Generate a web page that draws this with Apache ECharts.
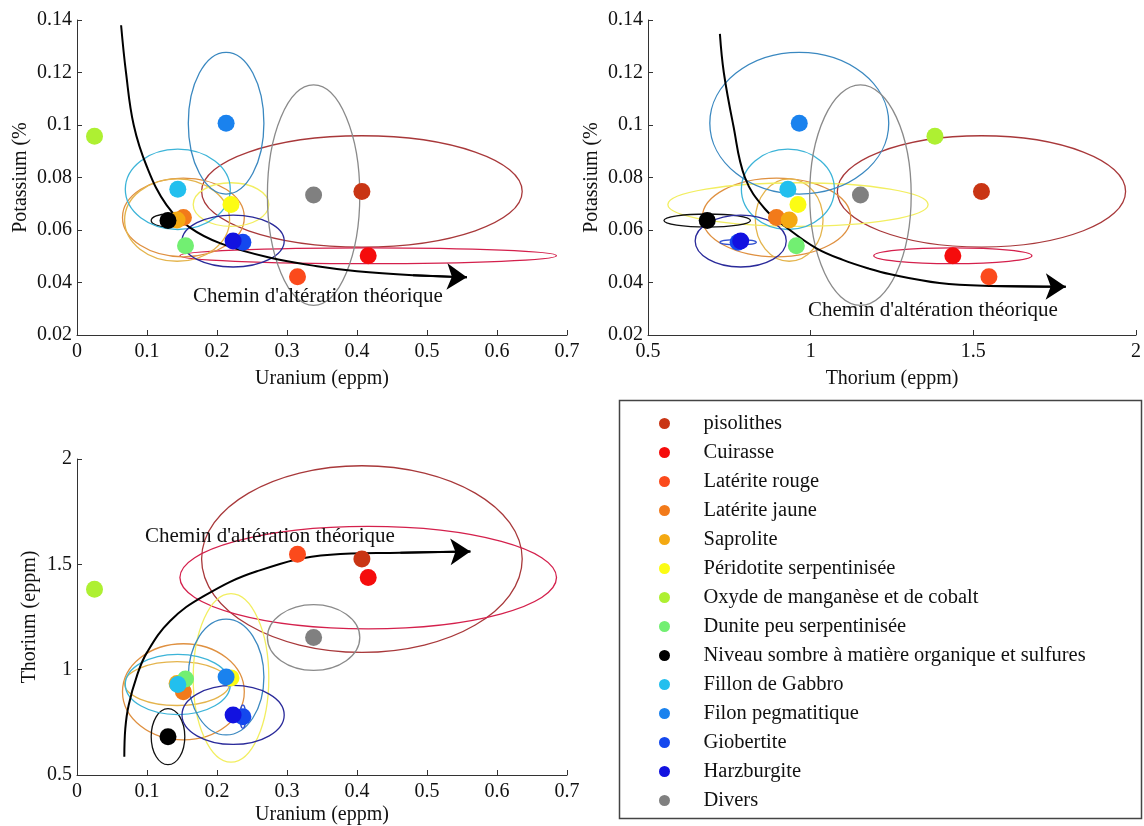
<!DOCTYPE html>
<html><head><meta charset="utf-8">
<script src="https://cdn.jsdelivr.net/npm/echarts@6/dist/echarts.min.js"></script>
<style>html,body{margin:0;padding:0;background:#fff}#c{width:1144px;height:826px}</style>
</head><body><div id="c"></div>
<script>
// ---- data ----
const categories = ['pisolithes','Cuirasse','Latérite rouge','Latérite jaune','Saprolite','Péridotite serpentinisée','Oxyde de manganèse et de cobalt','Dunite peu serpentinisée','Niveau sombre à matière organique et sulfures','Fillon de Gabbro','Filon pegmatitique','Giobertite','Harzburgite','Divers'];
const uranium   = [0.407,0.416,0.315,0.152,0.143,0.220,0.025,0.155,0.130,0.144,0.213,0.237,0.223,0.338];
const thorium   = [1.525,1.437,1.548,0.895,0.934,0.961,1.382,0.956,0.682,0.930,0.965,0.777,0.785,1.153];
const potassium = [0.0747,0.0502,0.0422,0.0648,0.0638,0.0697,0.0957,0.0540,0.0636,0.0755,0.1007,0.0553,0.0558,0.0733];
// half-axes of the dispersion ellipses (null = no ellipse)
const sdUranium   = [0.229,0.269,null,0.087,0.075,0.054,null,null,0.024,0.075,0.054,0.004,0.073,0.066];
const sdThorium   = [0.443,0.243,null,0.228,0.104,0.400,null,null,0.133,0.143,0.275,0.056,0.140,0.156];
const sdPotassium = [0.0212,0.0030,null,0.0150,0.0157,0.0083,null,null,0.0025,0.0153,0.0270,0.0010,0.0099,0.0420];
// theoretical weathering paths (last point = arrow tip)
const pathUK_U  = [0.063,0.070,0.081,0.100,0.128,0.162,0.205,0.276,0.343,0.400,0.480,0.557];
const pathUK_K  = [0.138,0.120,0.100,0.084,0.0695,0.0608,0.0549,0.0494,0.0462,0.0443,0.0428,0.0420];
const pathThK_Th = [0.721,0.733,0.762,0.798,0.859,0.936,1.018,1.099,1.181,1.242,1.396,1.549,1.784];
const pathThK_K  = [0.1347,0.120,0.100,0.080,0.0681,0.060,0.053,0.0486,0.0452,0.0432,0.0398,0.0387,0.0384];
const pathUTh_U  = [0.0676,0.069,0.0737,0.0857,0.100,0.133,0.181,0.257,0.362,0.462,0.562];
const pathUTh_Th = [0.587,0.720,0.830,0.972,1.082,1.231,1.349,1.467,1.546,1.555,1.561];
const pathLabel = "Chemin d'altération théorique";
const xTicksU = [0,0.7,0.1];
const xTicksTh = [0.5,2,0.5];
const yTicksK = [0.02,0.14,0.02];
const yTicksTh = [0.5,2,0.5];

// ---- styles ----
const pointColors = ['#c93514','#f50c0c','#fb4a1c','#f27a1a','#f4a912','#fcfc14','#aef032','#72ef72','#000000','#22bfee','#1a82ee','#1448ee','#1212e0','#808080'];
const ellipseColors = ['#a8383a','#d4204c',null,'#df9040','#e4b44c','#f2ee60',null,null,'#111111','#3cb4d8','#3a88c0','#3050d0','#2a2a9a','#8a8a8a'];
const FONT = "'Liberation Serif','Times New Roman',serif";

const chart = echarts.init(document.getElementById('c'), null, {renderer:'canvas'});

function axis(gridIndex, t, name, nameGap, isY) {
  return {
    gridIndex, type:'value', min:t[0], max:t[1], interval:t[2],
    name, nameLocation:'middle', nameGap,
    nameTextStyle:{fontFamily:FONT, fontSize:20, color:'#111'},
    axisLine:{show:true, onZero:false, lineStyle:{color:'#333', width:1}},
    axisTick:{show:true, inside:true, length:5, lineStyle:{color:'#333'}},
    axisLabel:{fontFamily:FONT, fontSize:20, color:'#111', margin:isY?5:7, showMinLabel:true, showMaxLabel:true},
    splitLine:{show:false}
  };
}

function renderEllipse(params, api) {
  const c = api.coord([api.value(0), api.value(1)]);
  const s = api.size([api.value(2), api.value(3)]);
  return {
    type:'ellipse',
    shape:{cx:c[0], cy:c[1], rx:s[0], ry:s[1]},
    style:{fill:'none', stroke:ellipseColors[api.value(4)], lineWidth:1.3}
  };
}

const plots = [
  {xs:uranium, ys:potassium, sx:sdUranium, sy:sdPotassium, cx:pathUK_U, cy:pathUK_K},
  {xs:thorium, ys:potassium, sx:sdThorium, sy:sdPotassium, cx:pathThK_Th, cy:pathThK_K},
  {xs:uranium, ys:thorium, sx:sdUranium, sy:sdThorium, cx:pathUTh_U, cy:pathUTh_Th}
];

const series = [];
plots.forEach((p, i) => {
  const ed = [];
  categories.forEach((c, j) => { if (p.sx[j] != null) ed.push([p.xs[j], p.ys[j], p.sx[j], p.sy[j], j]); });
  series.push({type:'custom', xAxisIndex:i, yAxisIndex:i, data:ed, renderItem:renderEllipse, z:1, silent:true, clip:false,
    dimensions:['x','y','rx','ry','k'], encode:{x:0, y:1}});
  series.push({type:'line', xAxisIndex:i, yAxisIndex:i, data:p.cx.map((v,k)=>[v,p.cy[k]]), smooth:0.4,
    showSymbol:false, symbol:'none', lineStyle:{color:'#000', width:2}, z:2, silent:true});
  const n = p.cx.length;
  series.push({type:'lines', coordinateSystem:'cartesian2d', xAxisIndex:i, yAxisIndex:i,
    data:[{coords:[[p.cx[n-2],p.cy[n-2]],[p.cx[n-1],p.cy[n-1]]]}],
    symbol:['none','arrow'], symbolSize:[10,20], lineStyle:{color:'#000', width:2, opacity:1}, z:2, silent:true});
  categories.forEach((c, j) => {
    series.push({type:'scatter', name:c, xAxisIndex:i, yAxisIndex:i, data:[[p.xs[j], p.ys[j]]],
      symbolSize:17, itemStyle:{color:pointColors[j], opacity:1}, z:3, silent:true});
  });
});

chart.setOption({
  animation:false,
  backgroundColor:'#fff',
  textStyle:{fontFamily:FONT},
  grid:[
    {left:77, top:20, width:490, height:315},
    {left:648, top:20, width:489, height:315},
    {left:77, top:459, width:490, height:318}
  ],
  xAxis:[
    axis(0, xTicksU, 'Uranium (eppm)', 34, false),
    axis(1, xTicksTh, 'Thorium (eppm)', 34, false),
    axis(2, xTicksU, 'Uranium (eppm)', 30, false)
  ],
  yAxis:[
    axis(0, yTicksK, 'Potassium (%', 46, true),
    axis(1, yTicksK, 'Potassium (%', 46, true),
    axis(2, yTicksTh, 'Thorium (eppm)', 37, true)
  ],
  legend:{
    data:categories, orient:'vertical', left:659, top:413, height:410, padding:0,
    itemWidth:68, itemHeight:11, itemGap:8,
    icon:'circle', selectedMode:false,
    textStyle:{fontFamily:FONT, fontSize:20.5, color:'#111', lineHeight:21}
  },
  graphic:[
    {type:'rect', shape:{x:619.5, y:400.5, width:522, height:418}, style:{fill:'none', stroke:'#444', lineWidth:1.5}, silent:true},
    {type:'text', x:193, y:296, style:{text:pathLabel, font:"21px 'Liberation Serif'", fill:'#111', textVerticalAlign:'middle', verticalAlign:'middle'}, z:10},
    {type:'text', x:808, y:310, style:{text:pathLabel, font:"21px 'Liberation Serif'", fill:'#111', textVerticalAlign:'middle', verticalAlign:'middle'}, z:10},
    {type:'text', x:145, y:536, style:{text:pathLabel, font:"21px 'Liberation Serif'", fill:'#111', textVerticalAlign:'middle', verticalAlign:'middle'}, z:10}
  ],
  series
});
</script></body></html>
